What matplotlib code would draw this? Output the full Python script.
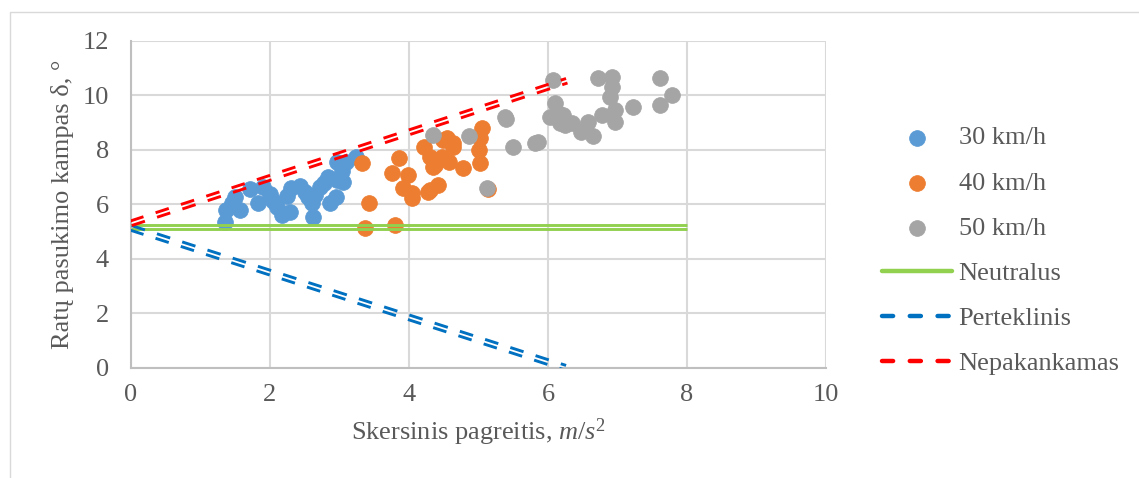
import matplotlib
matplotlib.use("Agg")
import matplotlib.pyplot as plt
import numpy as np
from matplotlib.lines import Line2D
from matplotlib.patches import Rectangle
from matplotlib import transforms

plt.rcParams['font.family'] = ['Liberation Serif', 'DejaVu Serif']
plt.rcParams['mathtext.fontset'] = 'custom'
plt.rcParams['mathtext.rm'] = 'Liberation Serif'
plt.rcParams['mathtext.it'] = 'Liberation Serif:italic'
plt.rcParams['lines.scale_dashes'] = False

# ---- data ----
x30 = [1.35, 1.37, 1.45, 1.50, 1.57, 1.71, 1.83, 1.90, 2.00, 2.05, 2.10, 2.17, 2.24, 2.29,
       2.30, 2.43, 2.50, 2.55, 2.60, 2.62, 2.65, 2.72, 2.78, 2.83, 2.86, 2.95, 2.97, 3.05,
       3.04, 2.97, 3.10, 3.24]
y30 = [5.36, 5.79, 6.05, 6.28, 5.79, 6.55, 6.06, 6.64, 6.38, 6.10, 5.90, 5.62, 6.30, 5.72,
       6.58, 6.68, 6.45, 6.25, 6.06, 5.54, 6.35, 6.62, 6.78, 7.01, 6.05, 6.28, 6.90, 6.80,
       7.22, 7.55, 7.55, 7.75]

x40 = [3.32, 3.37, 3.42, 3.75, 3.80, 3.85, 3.92, 3.99, 4.04, 4.04, 4.21, 4.28, 4.30, 4.30,
       4.35, 4.37, 4.42, 4.47, 4.49, 4.54, 4.58, 4.63, 4.63, 4.78, 5.00, 5.02, 5.02, 5.05,
       5.13]
y40 = [7.50, 5.12, 6.03, 7.13, 5.24, 7.68, 6.58, 7.07, 6.40, 6.22, 8.11, 6.46, 7.74, 6.52,
       7.38, 7.44, 6.70, 7.74, 8.35, 8.42, 7.56, 8.11, 8.23, 7.32, 7.99, 7.50, 8.42, 8.79,
       6.55]

x50 = [4.35, 4.86, 5.12, 5.38, 5.40, 5.50, 5.81, 5.86, 6.03, 6.07, 6.10, 6.15, 6.17, 6.22,
       6.24, 6.34, 6.48, 6.58, 6.65, 6.72, 6.77, 6.89, 6.92, 6.92, 6.96, 6.96, 7.23, 7.61,
       7.61, 7.78]
y50 = [8.54, 8.50, 6.58, 9.21, 9.12, 8.11, 8.23, 8.29, 9.21, 10.56, 9.70, 9.34, 8.97, 9.27,
       8.91, 8.97, 8.66, 9.03, 8.50, 10.62, 9.27, 9.94, 10.68, 10.31, 9.46, 9.03, 9.58, 10.62,
       9.64, 10.01]

neutral_x = [0, 8]
neutral_y = [5.16, 5.16]
over_x = [0, 6.25]          # Perteklinis
over_y = [5.13, 0]
under_x = [0, 6.27]         # Nepakankamas
under_y = [5.30, 10.53]

series_labels = ['30 km/h', '40 km/h', '50 km/h', 'Neutralus', 'Perteklinis', 'Nepakankamas']
xticks = [0, 2, 4, 6, 8, 10]
yticks = [0, 2, 4, 6, 8, 10, 12]

c_blue = '#5B9BD5'
c_orange = '#ED7D31'
c_grey = '#A5A5A5'
c_green = '#92D050'
c_dblue = '#0070C0'
c_red = '#FF0000'
txt = '#595959'
grid_c = '#D9D9D9'

W, H = 1139, 478
fig = plt.figure(figsize=(W / 100, H / 100), dpi=100)
ax = fig.add_axes([131 / W, 1 - 367.7 / H, 695 / W, 327 / H])
ax.set_xlim(0, 10)
ax.set_ylim(0, 12)
ax.set_xticks(xticks)
ax.set_yticks(yticks)
ax.grid(True, color=grid_c, linewidth=1.5, zorder=0)
ax.set_axisbelow(True)
for s in ['top', 'right']:
    ax.spines[s].set_visible(False)
for s in ['left', 'bottom']:
    ax.spines[s].set_color('#BFBFBF')
    ax.spines[s].set_linewidth(1.5)
ax.tick_params(axis='both', length=0, labelsize=19, labelcolor=txt)
ax.tick_params(axis='y', pad=16)
ax.tick_params(axis='x', pad=12)

ms = 128
sc1 = ax.scatter(x30, y30, s=ms, color=c_blue, edgecolors=c_blue, linewidths=0.6, zorder=3, label=series_labels[0])
sc2 = ax.scatter(x40, y40, s=ms, color=c_orange, edgecolors=c_orange, linewidths=0.6, zorder=3, label=series_labels[1])
sc3 = ax.scatter(x50, y50, s=ms, color=c_grey, edgecolors=c_grey, linewidths=0.6, zorder=3, label=series_labels[2])


def double_line(xs, ys, color, dashed):
    p = ax.transData.transform(np.column_stack([xs, ys]))
    d = p[-1] - p[0]
    ang = np.arctan2(d[1], d[0])
    length_pt = np.hypot(*d) * 72.0 / fig.dpi
    sep = 1.7  # points
    on = 10.0
    n = max(1, int(round((length_pt - 4.0) / 19.5)))
    off = (length_pt - 4.0) / n - on
    for sgn in (-1, 1):
        dx = -np.sin(ang) * sep * sgn
        dy = np.cos(ang) * sep * sgn
        tr = transforms.offset_copy(ax.transData, fig=fig, x=dx, y=dy, units='points')
        ln, = ax.plot(xs, ys, color=color, lw=2.1, transform=tr, zorder=4,
                      solid_capstyle='butt', dash_capstyle='butt')
        if dashed:
            ln.set_dashes((on, off))


double_line(neutral_x, neutral_y, c_green, False)
double_line(over_x, over_y, c_dblue, True)
double_line(under_x, under_y, c_red, True)

ax.set_xlabel(r'Skersinis pagreitis, $\mathit{m/s^{2}}$', fontsize=19, color=txt)
ax.xaxis.set_label_coords(0.5, -0.15)
ax.set_ylabel('Ratų pasukimo kampas δ, °', fontsize=19, color=txt)
ax.yaxis.set_label_coords(-0.082, 0.5)

h_green = Line2D([], [], color=c_green, lw=3.2, solid_capstyle='round')
h_blue = Line2D([], [], color=c_dblue, lw=3.2, dash_capstyle='round', dashes=(8, 12))
h_red = Line2D([], [], color=c_red, lw=3.2, dash_capstyle='round', dashes=(8, 12))
leg = fig.legend([sc1, sc2, sc3, h_green, h_blue, h_red], series_labels,
                 loc='upper left', bbox_to_anchor=(882 / W, 1 - 126 / H),
                 frameon=False, fontsize=19, labelcolor=txt, handlelength=2.65,
                 handletextpad=0.25, labelspacing=0.82, borderpad=0, borderaxespad=0,
                 scatterpoints=1)

fig.patches.append(Rectangle((10 / W, -0.2), 1.5, 1 - 12 / H + 0.2, transform=fig.transFigure,
                             fill=False, edgecolor='#D9D9D9', lw=1.0))

fig.savefig('out.png', dpi=100)
